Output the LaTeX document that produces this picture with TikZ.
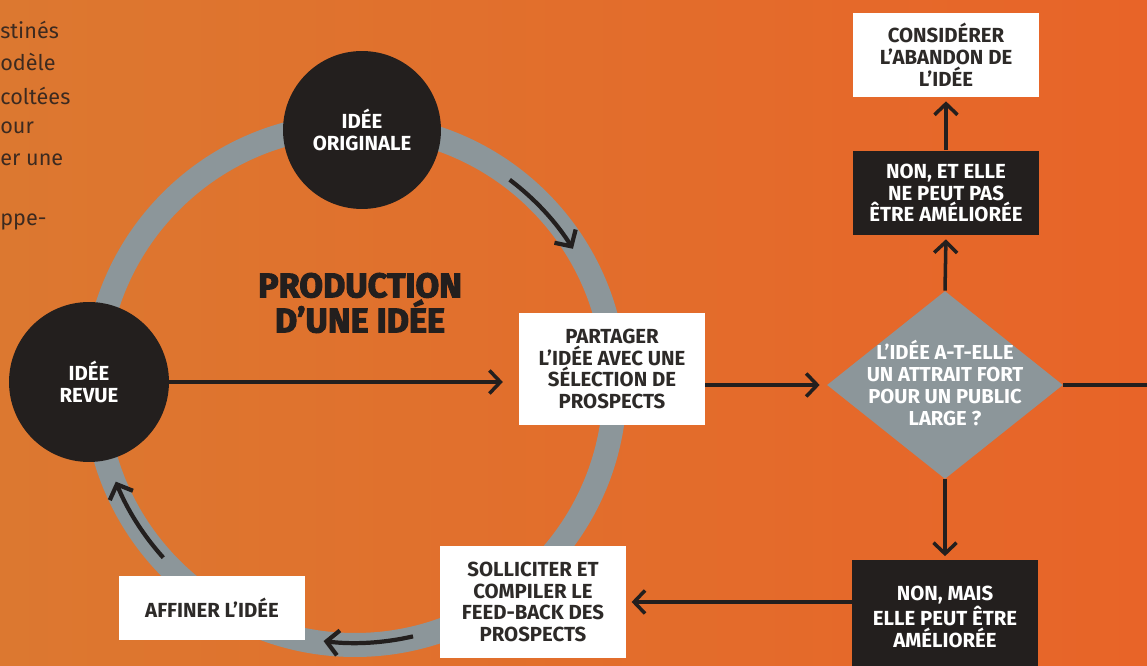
\documentclass[tikz,border=0pt]{standalone}
\usepackage{fontspec}
\setmainfont{Fira Sans}
\newfontfamily\heavy[BoldFeatures={FakeBold=3}]{Fira Sans}
\usetikzlibrary{arrows.meta,shapes.geometric}
\definecolor{bgL}{RGB}{220,120,48}
\definecolor{bgR}{RGB}{232,100,40}
\definecolor{ringgray}{RGB}{140,150,154}
\definecolor{ink}{RGB}{35,31,30}
\definecolor{txt}{RGB}{45,42,40}
\definecolor{bodytxt}{RGB}{60,42,32}
\begin{document}
\begin{tikzpicture}[x=0.02cm,y=0.02cm,
  font=\fontsize{11.6}{12.4}\selectfont\bfseries,
  wbox/.style={fill=white, text=txt, align=center, inner sep=0, minimum width=3.72cm},
  kbox/.style={fill=ink, text=white, align=center, inner sep=0, minimum width=3.72cm},
  circ/.style={circle, fill=ink, text=white, align=center, inner sep=0},
  conn/.style={draw=ink, line width=2pt, -{Straight Barb[length=2.2mm,width=4.6mm]}},
  ringarrow/.style={draw=ink, line width=2.4pt, -{Straight Barb[length=2.4mm,width=5mm]}},
  body/.style={anchor=west, text=bodytxt, inner sep=0, font=\fontsize{12.3}{13}\selectfont\mdseries},
]
\useasboundingbox (0,0) rectangle (1147,666);
\clip (0,0) rectangle (1147,666);
\shade[left color=bgL, right color=bgR] (0,0) rectangle (1147,666);

% left text fragment
\node[body] (t1) at (0,636) {stinés};
\node[body] (t2) at (0,604) {odèle};
\node[body] (t3) at (0,570) {coltées};
\node[body] (t4) at (0,538) {our};
\node[body] (t5) at (0,506) {er une};
\node[body] (t6) at (0,444) {ppe-};

% ring
\draw[ringgray, line width=0.48cm] (355,281) circle[radius=260];
\draw[ringarrow] (355,281) ++(53:257) arc[start angle=53, end angle=32, radius=257];
\draw[ringarrow] (355,281) ++(222:258) arc[start angle=222, end angle=202, radius=258];
\draw[ringarrow] (355,281) ++(283:258) arc[start angle=283, end angle=263, radius=258];

% title
\node[text=ink, font=\heavy\bfseries\fontsize{19.5}{17}\selectfont, align=center] (title) at (360,363) {PRODUCTION\\D’UNE IDÉE};

% circles
\node[circ, minimum size=3.16cm] (orig) at (362,536) {IDÉE\\ORIGINALE};
\node[circ, minimum size=3.2cm] (revue) at (89,284) {IDÉE\\REVUE};

% boxes
\node[wbox, minimum height=1.7cm] (cons) at (946,611) {CONSIDÉRER\\L’ABANDON DE\\L’IDÉE};
\node[kbox, minimum height=1.7cm] (nonet) at (946,473) {NON, ET ELLE\\NE PEUT PAS\\ÊTRE AMÉLIORÉE};
\node[diamond, fill=ringgray, inner sep=0, minimum width=4.72cm, minimum height=3.76cm] (dec) at (945,281) {};
\node[text=white, align=center, font=\fontsize{11.5}{12.4}\selectfont\bfseries] (dectxt) at (945,283) {L’IDÉE A-T-ELLE\\UN ATTRAIT FORT\\POUR UN PUBLIC\\LARGE ?};
\node[kbox, minimum height=2.28cm] (nonmais) at (945,49) {NON, MAIS\\ELLE PEUT ÊTRE\\AMÉLIORÉE};
\node[wbox, minimum height=2.24cm] (part) at (612,297) {PARTAGER\\L’IDÉE AVEC UNE\\SÉLECTION DE\\PROSPECTS};
\node[wbox, minimum height=2.24cm] (soll) at (533,64) {SOLLICITER ET\\COMPILER LE\\FEED-BACK DES\\PROSPECTS};
\node[wbox, minimum height=1.28cm] (aff) at (212,58) {AFFINER L’IDÉE};

% connectors
\draw[conn, shorten >=9pt] (revue.east) -- (revue.east -| part.west);
\draw[conn, shorten >=4pt] (part.east |- dec.west) -- (dec.west);
\coordinate (offR) at (1160,281);
\draw[draw=ink, line width=2pt] (dec.east) -- (offR);
\draw[conn, shorten >=2pt] (dec.north) -- (nonet.south);
\draw[conn, shorten >=2pt] (nonet.north) -- (cons.south);
\draw[conn, shorten >=2pt] (dec.south) -- (nonmais.north);
\draw[conn, shorten >=3pt] (nonmais.west |- soll.east) -- (soll.east);
\end{tikzpicture}
\end{document}
